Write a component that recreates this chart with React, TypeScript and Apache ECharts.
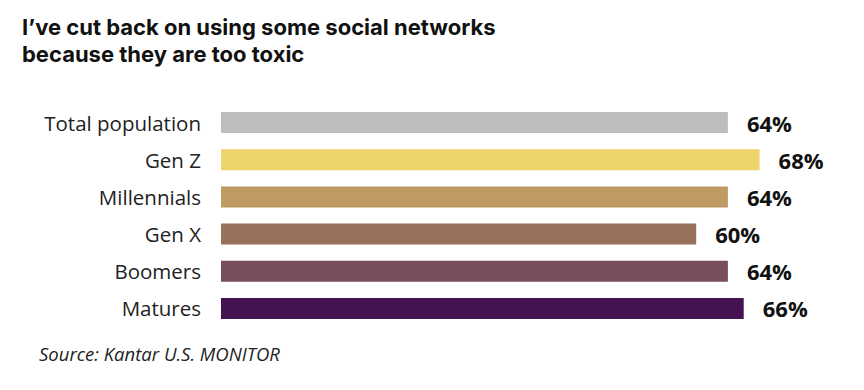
import React, { useEffect, useRef } from "react";
import * as echarts from "echarts";

const categories = ["Total population", "Gen Z", "Millennials", "Gen X", "Boomers", "Matures"];
const values = [64, 68, 64, 60, 64, 66];
const colors = ["#BDBEC0", "#EFD36B", "#C09A63", "#98715B", "#774E5A", "#461352"];
const titleLine1 = "I’ve cut back on using some social networks";
const titleLine2 = "because they are too toxic";
const sourceText = "Source: Kantar U.S. MONITOR";

const FONT = "Open Sans";
const TITLE_FONT = "Inter";

export default function App() {
  const ref = useRef<HTMLDivElement>(null);
  useEffect(() => {
    if (!ref.current) return;
    const chart = echarts.init(ref.current, null, { renderer: "svg" });
    const titleStyle = {
      fontFamily: TITLE_FONT,
      fontSize: 22,
      fontWeight: "bold",
      color: "#111111",
      lineHeight: 27,
    };
    chart.setOption({
      animation: false,
      backgroundColor: "#ffffff",
      title: {
        text: titleLine1,
        subtext: titleLine2,
        left: 17,
        top: 8,
        itemGap: 0,
        textStyle: titleStyle,
        subtextStyle: titleStyle,
      },
      grid: { left: 221, right: 9.4, top: 104, bottom: 63, containLabel: false },
      xAxis: {
        type: "value",
        min: 0,
        max: 80,
        show: false,
      },
      yAxis: {
        type: "category",
        data: categories,
        inverse: true,
        axisLine: { show: false },
        axisTick: { show: false },
        axisLabel: {
          margin: 20,
          fontFamily: FONT,
          fontSize: 20.5,
          color: "#222222",
        },
      },
      series: [
        {
          type: "bar",
          barWidth: 21,
          data: values.map((v, i) => ({ value: v, itemStyle: { color: colors[i] } })),
          label: {
            show: true,
            position: "right",
            distance: 19,
            formatter: "{c}%",
            fontFamily: FONT,
            fontSize: 22,
            fontWeight: "bold",
            color: "#111111",
          },
        },
      ],
      graphic: [
        {
          type: "text",
          left: 39,
          top: 344,
          style: {
            text: sourceText,
            fontFamily: FONT,
            fontSize: 18.5,
            fontStyle: "italic",
            fill: "#222222",
          },
        },
      ],
    });
    return () => chart.dispose();
  }, []);
  return <div ref={ref} style={{ width: 864, height: 390, position: "absolute", left: 0, top: 0 }} />;
}
